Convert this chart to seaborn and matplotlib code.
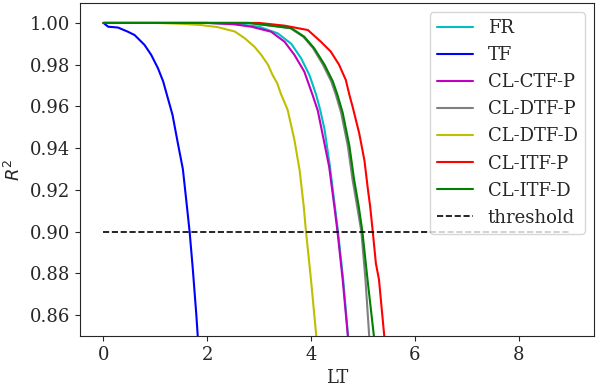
import matplotlib
matplotlib.use("Agg")
import matplotlib.pyplot as plt
import seaborn as sns

# values
fr_lt = [0, 2.0, 2.6, 3.0, 3.36, 3.62, 3.81, 3.97, 4.10, 4.18, 4.26, 4.36, 4.46, 4.52, 4.62, 4.71, 4.75]
fr_r2 = [1.0, 1.0, 0.9994, 0.9982, 0.995, 0.990, 0.983, 0.975, 0.9655, 0.958, 0.949, 0.932, 0.912, 0.90, 0.877, 0.851, 0.84]

tf_lt = [0, 0.03, 0.09, 0.28, 0.47, 0.60, 0.79, 0.92, 1.05, 1.15, 1.24, 1.33, 1.44, 1.53, 1.60, 1.66, 1.72, 1.79, 1.83]
tf_r2 = [1.0, 0.9994, 0.9982, 0.9978, 0.9958, 0.9942, 0.9895, 0.9847, 0.9783, 0.972, 0.964, 0.956, 0.9415, 0.930, 0.914, 0.900, 0.8826, 0.860, 0.845]

ctfp_lt = [0, 2.0, 2.5, 2.85, 3.23, 3.49, 3.68, 3.87, 4.03, 4.13, 4.22, 4.35, 4.45, 4.51, 4.61, 4.71, 4.75]
ctfp_r2 = [1.0, 1.0, 0.9994, 0.9982, 0.9958, 0.991, 0.9847, 0.9767, 0.9655, 0.958, 0.947, 0.931, 0.912, 0.90, 0.877, 0.850, 0.84]

dtfp_lt = [0, 2.8, 3.22, 3.60, 3.85, 4.04, 4.23, 4.39, 4.48, 4.58, 4.71, 4.80, 4.89, 4.97, 5.05, 5.12, 5.15]
dtfp_r2 = [1.0, 1.0, 0.9987, 0.9975, 0.9934, 0.9879, 0.98, 0.972, 0.9655, 0.957, 0.941, 0.925, 0.912, 0.90, 0.8768, 0.8504, 0.84]

dtfd_lt = [0, 1.0, 1.5, 1.88, 2.2, 2.53, 2.72, 2.91, 3.04, 3.17, 3.26, 3.35, 3.42, 3.55, 3.68, 3.78, 3.86, 3.90, 4.0, 4.10, 4.13]
dtfd_r2 = [1.0, 1.0, 0.9996, 0.999, 0.998, 0.9959, 0.9927, 0.9886, 0.9847, 0.98, 0.975, 0.971, 0.966, 0.9583, 0.9439, 0.9295, 0.912, 0.9008, 0.8768, 0.8504, 0.84]

itfp_lt = [0, 3.0, 3.49, 3.94, 4.19, 4.38, 4.54, 4.67, 4.74, 4.80, 4.93, 5.03, 5.09, 5.14, 5.19, 5.25, 5.31, 5.41, 5.44]
itfp_r2 = [1.0, 1.0, 0.9987, 0.9966, 0.991, 0.9863, 0.98, 0.9727, 0.9655, 0.960, 0.947, 0.934, 0.9215, 0.912, 0.90, 0.8848, 0.877, 0.8504, 0.84]

itfd_lt = [0, 2.8, 3.23, 3.62, 3.87, 4.06, 4.26, 4.42, 4.51, 4.61, 4.74, 4.83, 4.92, 4.99, 5.09, 5.21, 5.24]
itfd_r2 = [1.0, 1.0, 0.9987, 0.9975, 0.9934, 0.9879, 0.98, 0.972, 0.9655, 0.957, 0.941, 0.925, 0.912, 0.90, 0.8768, 0.8504, 0.84]

thr_lt = [0, 9]
thr_r2 = [0.9, 0.9]

sns.set_style("ticks")
plt.rcParams['font.family'] = ['DejaVu Serif']

fig, ax = plt.subplots(figsize=(5.98, 3.89), dpi=100)
fig.subplots_adjust(left=0.134, right=0.993, bottom=0.136, top=0.992)

series = [
    (fr_lt, fr_r2, 'c', 'FR'),
    (tf_lt, tf_r2, 'b', 'TF'),
    (ctfp_lt, ctfp_r2, 'm', 'CL-CTF-P'),
    (dtfp_lt, dtfp_r2, 'grey', 'CL-DTF-P'),
    (dtfd_lt, dtfd_r2, 'y', 'CL-DTF-D'),
    (itfp_lt, itfp_r2, 'r', 'CL-ITF-P'),
    (itfd_lt, itfd_r2, 'g', 'CL-ITF-D'),
]
for lt, r2, col, name in series:
    sns.lineplot(x=lt, y=r2, color=col, label=name, linewidth=1.5, ax=ax, sort=False)

sns.lineplot(x=thr_lt, y=thr_r2, color='k', linestyle='--', label='threshold', linewidth=1.2, ax=ax)

ax.set_ylim(0.85, 1.0095)
ax.set_xlim(-0.45, 9.45)
ax.set_xticks([0, 2, 4, 6, 8])
ax.set_xlabel('LT', fontsize=13)
ax.set_ylabel('$R^2$', fontsize=13)
ax.tick_params(labelsize=13)
ax.legend(loc='upper right', fontsize=13)

fig.savefig('out.png', dpi=100)
